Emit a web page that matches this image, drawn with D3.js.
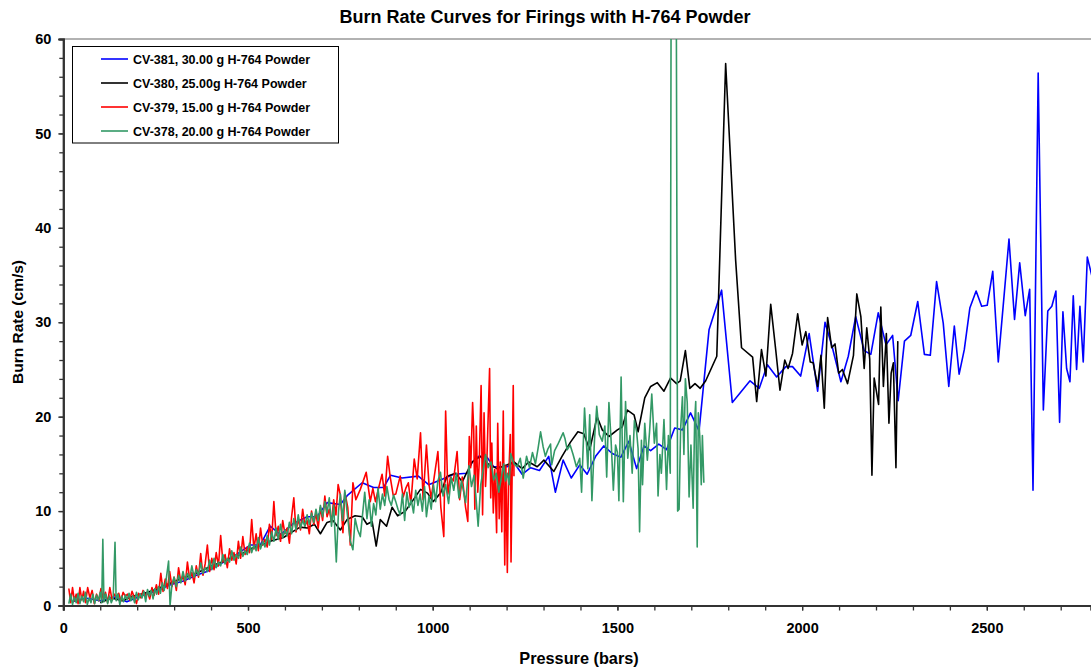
<!DOCTYPE html>
<html>
<head>
<meta charset="utf-8">
<script src="https://cdn.jsdelivr.net/npm/d3@7"></script>
<style>
  html, body { margin: 0; padding: 0; background: #fff; }
  svg text { font-family: "Liberation Sans", Arial, sans-serif; font-weight: bold; fill: #000; }
</style>
</head>
<body>
<svg id="chart" width="1091" height="671"></svg>
<script>
// ---------------- DATA ----------------
const chartTitle = "Burn Rate Curves for Firings with H-764 Powder";
const xTitle = "Pressure (bars)";
const yTitle = "Burn Rate (cm/s)";
const xTickValues = [0, 500, 1000, 1500, 2000, 2500];
const yTickValues = [0, 10, 20, 30, 40, 50, 60];
const seriesNames = [
  "CV-381, 30.00 g H-764 Powder",
  "CV-380, 25.00g H-764 Powder",
  "CV-379, 15.00 g H-764 Powder",
  "CV-378, 20.00 g H-764 Powder"
];
const seriesColors = ["#0000ff", "#000000", "#ff0000", "#339966"];

// CV-381 (blue): [pressure bars, burn rate cm/s]
const cv381 = [[25,0.4],[60,0.8],[100,0.5],[140,0.9],[172,0.4],[210,1.0],[250,1.5],[290,2.2],[325,2.6],[360,3.2],[389,3.6],[425,4.4],[461,5.2],[506,6.4],[533,6.4],[560,8.4],[588,7.5],[623,8.7],[660,9.4],[687,9.4],[714,10.9],[750,10.7],[770,11.7],[809,13.0],[840,12.5],[867,12.5],[886,13.8],[917,13.5],[961,13.7],[989,12.8],[1021,13.3],[1057,13.9],[1093,14.0],[1107,15.2],[1124,15.8],[1147,15.7],[1165,14.7],[1202,14.7],[1219,15.2],[1242,13.9],[1265,14.6],[1289,14.3],[1314,15.8],[1332,12.0],[1353,15.4],[1375,13.5],[1398,14.9],[1418,13.9],[1441,15.8],[1463,16.9],[1486,16.1],[1509,15.7],[1531,17.4],[1552,14.5],[1572,16.9],[1590,16.4],[1612,17.1],[1633,16.5],[1655,18.8],[1676,18.6],[1698,20.4],[1721,18.5],[1748,29.2],[1782,33.4],[1811,21.5],[1859,23.8],[1884,23.0],[1906,25.5],[1931,24.2],[1956,25.3],[1974,25.3],[1996,24.3],[2019,28.8],[2042,22.7],[2062,30.0],[2082,27.3],[2105,23.7],[2125,26.4],[2145,30.6],[2168,27.0],[2186,26.6],[2206,31.0],[2227,27.6],[2245,28.6],[2260,21.7],[2277,28.0],[2294,28.6],[2313,32.2],[2331,26.6],[2347,26.5],[2364,34.3],[2382,29.9],[2397,23.2],[2412,29.6],[2425,24.5],[2439,27.1],[2454,31.5],[2471,33.3],[2486,31.7],[2501,31.8],[2516,35.4],[2531,25.8],[2546,32.5],[2560,38.8],[2575,30.3],[2589,36.3],[2604,30.7],[2616,33.5],[2625,12.2],[2639,56.4],[2653,20.7],[2665,31.2],[2676,31.7],[2687,33.3],[2697,19.4],[2706,31.1],[2716,25.1],[2725,23.7],[2734,32.8],[2743,25.0],[2752,31.7],[2761,25.8],[2772,36.9],[2790,34.0]];

// CV-380 (black)
const cv380 = [[100,0.3],[130,0.8],[160,0.5],[190,1.0],[220,1.3],[250,1.7],[280,2.2],[310,2.7],[340,3.1],[370,3.6],[402,4.2],[430,4.6],[452,5.0],[480,5.4],[506,6.0],[530,6.3],[560,6.8],[596,7.2],[620,7.8],[641,8.3],[660,8.2],[680,8.6],[696,7.6],[714,8.8],[730,9.0],[750,8.0],[768,9.1],[790,9.5],[809,9.4],[822,8.6],[836,8.9],[847,6.3],[858,9.1],[875,8.4],[890,10.4],[905,9.5],[926,10.0],[944,11.0],[967,12.3],[986,11.9],[1001,11.0],[1021,11.9],[1039,13.7],[1062,14.0],[1080,13.1],[1091,14.0],[1107,15.2],[1129,15.8],[1150,15.0],[1174,14.5],[1202,14.9],[1220,15.2],[1242,14.5],[1260,15.2],[1283,14.7],[1301,15.4],[1328,14.2],[1350,15.8],[1373,17.3],[1393,18.4],[1409,18.2],[1425,16.5],[1445,20.0],[1459,18.6],[1477,17.9],[1500,18.6],[1513,18.9],[1527,20.7],[1545,20.2],[1556,18.4],[1574,22.0],[1590,23.2],[1608,23.6],[1626,22.7],[1644,24.1],[1660,23.5],[1670,23.8],[1684,27.0],[1696,23.0],[1710,23.5],[1724,23.0],[1739,23.8],[1754,25.1],[1769,26.4],[1793,57.4],[1820,36.6],[1836,27.3],[1866,26.3],[1877,21.6],[1890,27.1],[1902,24.3],[1915,31.9],[1929,26.9],[1940,22.8],[1953,26.0],[1962,25.1],[1974,26.7],[1988,30.9],[2000,27.6],[2010,29.0],[2022,25.8],[2030,25.7],[2042,23.2],[2051,26.5],[2060,20.9],[2069,30.5],[2080,27.3],[2089,27.7],[2099,24.6],[2109,25.0],[2123,23.5],[2139,26.5],[2148,33.0],[2159,30.6],[2168,25.1],[2175,29.4],[2183,26.1],[2189,13.8],[2195,24.1],[2207,21.3],[2213,31.6],[2220,23.2],[2228,28.8],[2235,19.3],[2241,24.6],[2247,25.7],[2254,14.6],[2259,28.0]];

// CV-379 (red)
const cv379 = [[15,1.8],[20,0.3],[25,1.9],[30,0.5],[35,1.2],[40,0.2],[45,1.9],[50,0.6],[55,1.5],[60,0.3],[66,1.9],[72,0.8],[78,1.6],[84,0.2],[90,1.2],[96,0.5],[102,1.8],[108,0.7],[114,1.4],[120,0.3],[126,1.9],[132,0.6],[138,1.2],[144,0.9],[150,1.3],[156,0.5],[162,1.4],[168,1.0],[174,1.2],[180,0.6],[186,1.5],[192,0.9],[198,0.2],[204,1.3],[210,0.8],[216,1.6],[222,1.0],[228,1.4],[234,0.7],[240,1.9],[246,1.1],[252,2.2],[258,1.2],[264,3.4],[270,1.5],[276,2.8],[282,1.8],[288,3.6],[294,2.0],[300,3.0],[306,1.6],[312,4.0],[318,2.5],[324,3.2],[330,2.2],[336,4.6],[342,2.8],[348,3.5],[354,2.4],[360,4.2],[366,3.0],[372,5.5],[378,3.2],[384,4.4],[390,6.4],[396,3.6],[402,5.0],[408,3.8],[414,5.6],[420,4.2],[426,7.4],[432,4.6],[438,5.4],[444,4.0],[450,6.0],[456,4.8],[462,5.6],[468,4.4],[474,6.8],[480,5.0],[486,7.3],[492,5.4],[498,6.2],[504,5.6],[510,9.1],[516,6.0],[522,7.6],[528,5.8],[534,8.2],[540,6.4],[546,7.0],[552,6.2],[558,8.6],[564,7.0],[570,11.0],[576,7.4],[582,8.4],[588,6.8],[594,9.0],[600,7.6],[606,8.2],[612,6.6],[618,9.4],[624,11.4],[630,7.8],[636,9.2],[642,8.0],[648,10.2],[654,8.4],[660,9.0],[666,7.6],[672,10.0],[678,8.6],[684,9.8],[690,8.2],[696,10.4],[702,9.0],[708,11.6],[714,9.4],[720,10.2],[726,8.8],[732,11.2],[738,9.6],[744,12.8],[750,11.7],[757,7.7],[762,12.0],[770,10.4],[777,6.4],[784,13.0],[792,11.2],[804,12.3],[820,14.1],[831,11.0],[838,12.4],[845,11.0],[852,12.2],[863,13.9],[870,11.6],[878,15.8],[885,13.6],[893,11.7],[900,11.8],[912,13.7],[920,11.5],[927,12.4],[934,13.0],[941,10.8],[950,15.5],[958,13.4],[967,18.3],[974,11.2],[983,17.0],[990,12.8],[996,11.4],[1004,13.6],[1014,16.3],[1022,10.4],[1030,7.3],[1035,20.6],[1041,11.8],[1048,13.6],[1056,13.2],[1066,16.3],[1073,11.2],[1080,13.6],[1089,10.4],[1095,8.9],[1099,17.9],[1103,14.6],[1108,21.5],[1111,18.6],[1114,10.2],[1118,19.0],[1122,12.0],[1126,15.2],[1131,23.3],[1135,9.6],[1139,20.4],[1143,12.6],[1147,15.8],[1154,25.1],[1157,11.4],[1160,17.2],[1164,9.8],[1168,14.4],[1173,7.7],[1176,19.3],[1180,9.2],[1183,15.2],[1187,7.8],[1191,20.6],[1195,4.3],[1198,14.8],[1202,3.5],[1205,12.8],[1210,18.1],[1212,4.6],[1218,23.3],[1220,13.7]];

// CV-378 (green)
const cv378 = [[15,0.2],[20,1.2],[25,0.1],[30,0.9],[35,0.3],[40,1.3],[45,0.2],[50,1.0],[55,0.4],[60,1.4],[65,0.1],[70,0.8],[75,0.3],[80,1.2],[85,0.2],[90,1.1],[95,0.5],[100,1.4],[104,0.3],[107,7.0],[110,0.4],[115,1.2],[120,0.2],[125,1.0],[130,0.3],[135,0.8],[140,6.7],[143,0.5],[148,1.2],[153,0.1],[158,1.0],[163,0.4],[168,1.1],[173,0.6],[178,1.3],[183,0.5],[188,1.0],[193,0.3],[198,1.4],[203,0.6],[208,1.2],[213,0.8],[218,1.5],[223,0.4],[228,1.7],[233,1.0],[238,1.6],[243,0.7],[248,1.8],[253,1.2],[258,2.0],[263,1.3],[268,2.4],[273,1.6],[278,2.6],[285,4.7],[289,0.0],[294,2.2],[300,3.0],[306,2.0],[312,3.2],[318,2.4],[324,3.6],[330,2.6],[336,3.4],[342,2.8],[348,4.2],[354,3.0],[360,3.8],[366,3.2],[372,4.5],[378,3.4],[384,4.0],[390,3.6],[396,4.8],[402,3.8],[408,5.0],[414,4.0],[420,4.6],[426,4.2],[432,5.4],[438,4.4],[444,5.0],[450,4.6],[456,5.8],[462,4.8],[468,5.4],[474,5.0],[480,6.2],[486,5.2],[492,5.8],[498,5.4],[504,6.6],[510,5.6],[516,6.4],[522,5.8],[528,7.2],[534,6.0],[540,6.8],[546,6.2],[552,7.4],[558,6.4],[564,7.8],[570,6.8],[576,8.2],[582,7.0],[588,8.6],[594,7.2],[600,8.0],[606,7.4],[612,8.8],[618,7.6],[624,9.2],[630,8.0],[636,9.6],[642,8.2],[648,9.0],[654,8.4],[660,9.6],[666,8.6],[672,9.8],[678,8.8],[684,10.2],[690,9.0],[696,10.6],[702,9.4],[708,11.0],[714,9.8],[720,11.4],[726,8.4],[732,10.6],[739,4.6],[745,10.0],[750,11.8],[756,9.0],[762,12.2],[768,10.0],[777,6.8],[784,5.9],[790,9.2],[797,8.0],[804,7.3],[810,9.6],[816,12.0],[822,9.2],[828,11.2],[834,8.4],[840,10.8],[846,9.6],[852,12.4],[858,10.2],[864,11.8],[870,10.6],[876,12.6],[882,11.2],[888,10.6],[894,11.7],[900,11.0],[906,10.2],[912,9.6],[918,11.8],[924,9.0],[930,12.0],[936,10.4],[942,11.2],[948,9.8],[954,12.2],[960,10.6],[966,11.8],[972,10.0],[978,12.6],[983,9.4],[990,11.6],[996,10.2],[1002,12.8],[1008,11.0],[1014,13.2],[1021,14.1],[1028,11.6],[1035,12.8],[1043,10.8],[1050,13.6],[1057,12.2],[1064,14.0],[1071,11.4],[1078,13.2],[1084,12.0],[1089,10.9],[1098,14.8],[1105,12.6],[1112,13.8],[1118,11.0],[1123,8.4],[1130,12.8],[1136,14.2],[1143,16.0],[1150,14.6],[1158,15.2],[1165,13.3],[1172,14.0],[1179,12.0],[1186,13.6],[1192,15.0],[1197,13.2],[1202,14.0],[1207,12.8],[1211,16.1],[1220,15.0],[1229,14.7],[1237,15.6],[1245,13.5],[1254,15.8],[1262,14.6],[1270,16.2],[1278,15.0],[1285,16.6],[1292,18.4],[1299,16.8],[1305,15.8],[1312,16.6],[1319,17.1],[1322,14.9],[1330,16.4],[1338,17.0],[1345,17.6],[1353,18.3],[1358,17.7],[1364,16.5],[1372,17.0],[1380,16.0],[1389,14.7],[1398,15.6],[1403,12.0],[1411,20.9],[1420,14.5],[1425,20.2],[1431,11.1],[1438,17.6],[1444,21.1],[1451,18.1],[1459,17.4],[1466,19.0],[1471,13.6],[1477,21.5],[1483,17.4],[1489,12.2],[1495,17.0],[1500,16.2],[1504,11.1],[1510,24.2],[1516,11.0],[1522,21.6],[1528,15.6],[1534,18.0],[1540,14.0],[1546,19.6],[1552,18.4],[1556,16.6],[1560,7.8],[1565,17.5],[1568,12.8],[1574,19.3],[1581,15.4],[1587,18.4],[1593,22.4],[1600,17.2],[1606,19.3],[1610,11.6],[1615,16.0],[1619,14.0],[1626,19.7],[1633,12.3],[1638,18.0],[1643,14.0],[1647,100],[1657,100],[1663,10.0],[1667,10.2],[1671,18.6],[1676,22.1],[1680,16.0],[1684,24.0],[1689,21.5],[1694,11.5],[1699,17.0],[1705,10.3],[1709,19.4],[1712,21.6],[1716,6.2],[1719,20.4],[1723,17.9],[1727,12.8],[1730,18.0],[1734,13.0]];

const seriesData = [cv381, cv380, cv379, cv378];

// ---------------- CHART ----------------
const svg = d3.select("#chart");
const plotLeft = 63.3, plotRight = 1091, plotTop = 39, plotBottom = 605.5;

const x = d3.scaleLinear().domain([0, 2782]).range([plotLeft, plotRight]);
const y = d3.scaleLinear().domain([0, 60]).range([plotBottom, plotTop]);

svg.append("defs").append("clipPath").attr("id", "plotClip")
  .append("rect").attr("x", plotLeft).attr("y", plotTop)
  .attr("width", plotRight - plotLeft).attr("height", plotBottom - plotTop);

// top border of plot area
svg.append("line").attr("x1", plotLeft).attr("x2", plotRight)
  .attr("y1", plotTop).attr("y2", plotTop)
  .attr("stroke", "#999").attr("stroke-width", 1.5);

// lines
const line = d3.line().x(d => x(d[0])).y(d => y(d[1]));
const gLines = svg.append("g").attr("clip-path", "url(#plotClip)");
seriesData.forEach((s, i) => {
  gLines.append("path").datum(s)
    .attr("d", line)
    .attr("fill", "none")
    .attr("stroke", seriesColors[i])
    .attr("stroke-width", 1.6)
    .attr("stroke-linejoin", "round");
});

// axes
const xMinor = d3.range(0, 2800, 100);
const yMinor = d3.range(0, 61, 2);

const xAxisMinor = d3.axisBottom(x).tickValues(xMinor).tickSize(5).tickFormat("");
const xAxis = d3.axisBottom(x).tickValues(xTickValues).tickSize(5).tickPadding(12).tickFormat(d3.format("d"));
const yAxisMinor = d3.axisLeft(y).tickValues(yMinor).tickSize(4).tickFormat("");
const yAxis = d3.axisLeft(y).tickValues(yTickValues).tickSize(5).tickPadding(7).tickFormat(d3.format("d"));

function styleAxis(g) {
  g.select(".domain").attr("stroke", "#333").attr("stroke-width", 2);
  g.selectAll(".tick line").attr("stroke", "#333").attr("stroke-width", 1.3);
  g.selectAll(".tick text").attr("font-size", "14.5px").attr("fill", "#000")
    .attr("font-family", "'Liberation Sans', Arial, sans-serif").attr("font-weight", "bold");
}

svg.append("g").attr("transform", `translate(0,${plotBottom})`).call(xAxisMinor).call(styleAxis);
svg.append("g").attr("transform", `translate(0,${plotBottom})`).call(xAxis).call(styleAxis);
svg.append("g").attr("transform", `translate(${plotLeft},0)`).call(yAxisMinor).call(styleAxis);
svg.append("g").attr("transform", `translate(${plotLeft},0)`).call(yAxis).call(styleAxis);

// titles
svg.append("text").attr("x", 545).attr("y", 23).attr("text-anchor", "middle")
  .attr("font-size", "18px").text(chartTitle);
svg.append("text").attr("x", 579).attr("y", 664).attr("text-anchor", "middle")
  .attr("font-size", "16.3px").text(xTitle);
svg.append("text").attr("transform", "translate(23,322) rotate(-90)").attr("text-anchor", "middle")
  .attr("font-size", "15.5px").text(yTitle);

// legend
const legend = svg.append("g");
legend.append("rect").attr("x", 72.5).attr("y", 46.5).attr("width", 266).attr("height", 96.5)
  .attr("fill", "#fff").attr("stroke", "#000").attr("stroke-width", 1);
const legendRows = [59, 83, 107, 131];
seriesNames.forEach((name, i) => {
  legend.append("line").attr("x1", 101).attr("x2", 128)
    .attr("y1", legendRows[i]).attr("y2", legendRows[i])
    .attr("stroke", seriesColors[i]).attr("stroke-width", 1.6);
  legend.append("text").attr("x", 133).attr("y", legendRows[i] + 4.5)
    .attr("font-size", "12.5px").text(name);
});
</script>
</body>
</html>
